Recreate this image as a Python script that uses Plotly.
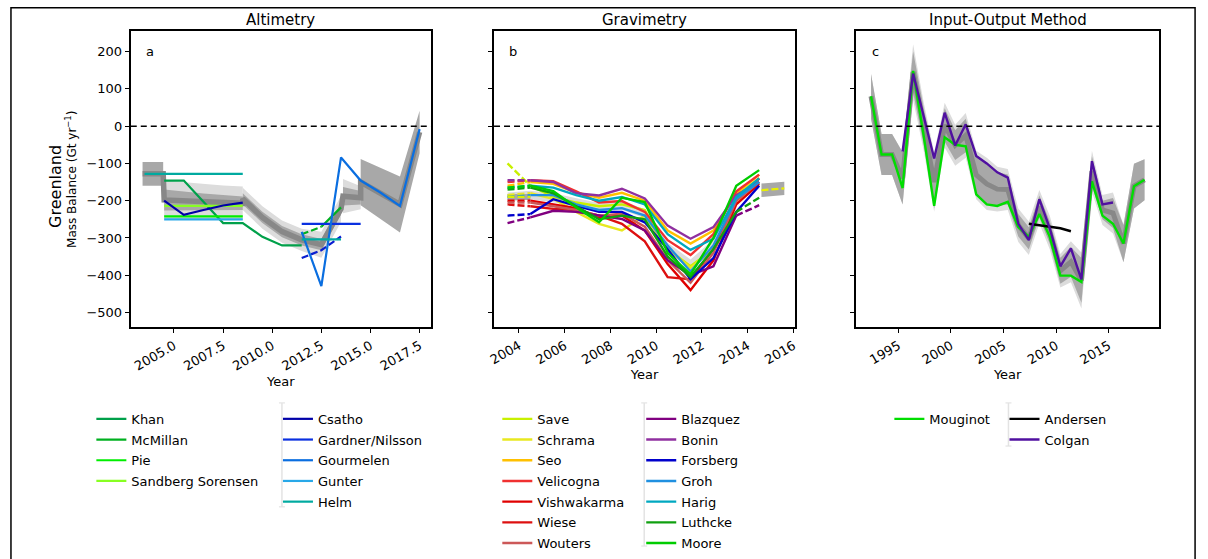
import plotly.graph_objects as go

W, H = 1208, 559
FONT = "DejaVu Sans"

# ---------------- Panel a : Altimetry ----------------
khan_x = [2004.5, 2005.5, 2007.5, 2008.5, 2009.5, 2010.5, 2011.5]
khan_y = [-146, -146, -260, -260, -297, -320, -320]
mcmillan_x = [2011.5, 2012.5, 2013.5]
mcmillan_y = [-290, -270, -218]
pie_x = [2004.5, 2008.5]
pie_y = [-242, -242]
sandberg_x = [2004.5, 2008.5]
sandberg_y = [-214, -214]
csatho_x = [2004.5, 2005.5, 2006.5, 2007.5, 2008.5]
csatho_y = [-200, -238, -225, -213, -205]
csatho2_x = [2011.5, 2012.5, 2013.5]
csatho2_y = [-354, -333, -296]
gardner_x = [2011.5, 2014.5]
gardner_y = [-262, -262]
gourmelen_x = [2011.5, 2012.5, 2013.5, 2014.5, 2015.5, 2016.5, 2017.5]
gourmelen_y = [-284, -429, -84, -146, -178, -214, -8]
gunter_x = [2004.5, 2008.5]
gunter_y = [-250, -250]
helm_x = [2003.5, 2008.5]
helm_y = [-128, -128]
helm2_x = [2011.5, 2013.5]
helm2_y = [-304, -304]

# altimetry ensemble envelopes (mean, dark half-width, light half-width)
alt_s1_x = [2003.4, 2004.45]
alt_s1_mean = [-128, -128]
alt_s1_dark = [32, 32]
alt_s2_x = [2004.5, 2005.5, 2006.5, 2007.5, 2008.5]
alt_s2_mean = [-198, -201, -203, -205, -207]
alt_s2_dark = [28, 25, 22, 20, 18]
alt_s2_light = [52, 50, 48, 46, 45]
alt_s3_x = [2008.5, 2009.5, 2010.5, 2011.5, 2012.5, 2013.5]
alt_s3_mean = [-195, -245, -283, -305, -318, -222]
alt_s3_dark = [15, 15, 15, 15, 15, 15]
alt_s3_light = [30, 30, 30, 30, 35, 35]
alt_s4_x = [2013.6, 2014.5]
alt_s4_mean = [-188, -192]
alt_s4_dark = [25, 18]
alt_s4_light = [46, 31]
alt_s5_x = [2014.5, 2015.5, 2016.5, 2017.5]
alt_s5_mean = [-150, -180, -210, -16]
alt_s5_dark = [62, 68, 75, 57]

# ---------------- Panel b : Gravimetry ----------------
grav_x = [2003.5, 2004.5, 2005.5, 2006.5, 2007.5, 2008.5, 2009.5, 2010.5, 2011.5, 2012.5, 2013.5, 2014.5]
save_y = [-100, -160, -190, -205, -215, -210, -225, -330, -376, -330, -200, -150]
schrama_y = [-185, -180, -195, -230, -262, -280, -240, -330, -380, -330, -185, -140]
seo_y = [-160, -150, -155, -178, -192, -179, -200, -280, -315, -280, -180, -130]
velicogna_y = [-150, -145, -148, -175, -205, -201, -230, -306, -346, -290, -175, -130]
vishwakarma_y = [-200, -200, -210, -220, -245, -240, -280, -370, -440, -360, -210, -155]
wiese_y = [-210, -215, -222, -225, -240, -262, -309, -405, -411, -330, -200, -140]
wouters_y = [-205, -205, -215, -225, -240, -235, -270, -360, -420, -340, -200, -150]
blazquez_y = [-260, -245, -227, -230, -240, -249, -280, -360, -400, -376, -240, -212]
bonin_y = [-145, -145, -150, -180, -186, -168, -194, -267, -302, -271, -185, -150]
forsberg_y = [-240, -236, -196, -214, -230, -230, -258, -330, -411, -354, -230, -160]
groh_y = [-190, -185, -185, -210, -225, -220, -240, -320, -390, -320, -195, -150]
harig_y = [-165, -160, -165, -185, -200, -190, -210, -290, -332, -302, -190, -140]
luthcke_y = [-170, -165, -180, -215, -250, -240, -250, -350, -405, -330, -230, -192]
moore_y = [-165, -160, -174, -218, -258, -192, -204, -340, -398, -300, -160, -118]

grav_mean = [-190, -185, -192, -205, -218, -212, -235, -325, -372, -318, -195, -155]
grav_half = [12, 12, 12, 12, 12, 12, 12, 12, 14, 14, 12, 12]
gbox1_x = [2003.5, 2004.5]
gbox1_mean = [-190, -190]
gbox1_half = [8, 8]
gbox2_x = [2014.6, 2015.6]
gbox2_mean = [-172, -167]
gbox2_half = [18, 18]

# ---------------- Panel c : Input-Output ----------------
io_x = [1992.4, 1993.4, 1994.4, 1995.4, 1996.4, 1997.4, 1998.4, 1999.4, 2000.4,
        2001.4, 2002.4, 2003.4, 2004.4, 2005.4, 2006.4, 2007.4, 2008.4, 2009.4,
        2010.4, 2011.4, 2012.4, 2013.4, 2014.4, 2015.4, 2016.4, 2017.4, 2018.4]
mouginot_y = [80, -76, -76, -166, 148, -25, -214, -30, -50, -54, -183, -210, -214,
              -203, -271, -297, -236, -297, -401, -401, -418, -148, -240, -262, -315, -161, -144]
colgan_x = [1995.4, 1996.4, 1997.4, 1998.4, 1999.4, 2000.4, 2001.4, 2002.4, 2003.4,
            2004.4, 2005.4, 2006.4, 2007.4, 2008.4, 2009.4, 2010.4, 2011.4, 2012.4,
            2013.4, 2014.4, 2015.4]
colgan_y = [-68, 141, 27, -87, 36, -52, 5, -80, -100, -124, -138, -262, -306, -196,
            -275, -376, -328, -411, -94, -210, -205]
andersen_x = [2007.4, 2008.4, 2009.4, 2010.4, 2011.4]
andersen_y = [-262, -266, -270, -274, -282]

io_mean = [80, -76, -76, -140, 145, 0, -150, 3, -51, -25, -131, -155, -169, -170,
           -266, -301, -216, -286, -388, -364, -414, -121, -225, -233, -315, -161, -144]
io_dark = [60, 55, 55, 70, 55, 50, 70, 45, 40, 45, 52, 55, 45, 40, 30, 30, 30, 30,
           35, 40, 60, 40, 25, 40, 50, 60, 55]
io_light = [60, 55, 55, 70, 75, 65, 80, 60, 55, 60, 65, 70, 60, 55, 45, 45, 45, 45,
            45, 55, 75, 55, 40, 55, 50, 60, 55]

# ---------------- build figure ----------------
fig = go.Figure()
AX = {'a': ('x', 'y'), 'b': ('x2', 'y2'), 'c': ('x3', 'y3')}
DASH = "7px,3px"
LIGHT = "#dcdcdc"
DARK = "#a8a8a8"
MEANC = "#888888"


def add_line(p, x, y, color, width=2.2, dash='solid', name=None, legend='legend'):
    xa, ya = AX[p]
    if name is not None:
        kw = dict(name=name, showlegend=True, legendgroup=name, legend=legend)
    else:
        kw = dict(name='segment', showlegend=False)
    fig.add_trace(go.Scatter(
        x=x, y=y, mode='lines', xaxis=xa, yaxis=ya,
        line=dict(color=color, width=width, dash=dash),
        hoverinfo='skip', **kw))


def add_band(p, x, mean, half, color):
    xa, ya = AX[p]
    upper = [m + h for m, h in zip(mean, half)]
    lower = [m - h for m, h in zip(mean, half)]
    fig.add_trace(go.Scatter(
        x=list(x) + list(x)[::-1], y=upper + lower[::-1], mode='lines',
        fill='toself', fillcolor=color, line=dict(width=0, color=color),
        xaxis=xa, yaxis=ya, showlegend=False, hoverinfo='skip', name='band'))


# Panel a envelopes
add_band('a', alt_s2_x, alt_s2_mean, alt_s2_light, LIGHT)
add_band('a', alt_s3_x, alt_s3_mean, alt_s3_light, LIGHT)
add_band('a', alt_s4_x, alt_s4_mean, alt_s4_light, LIGHT)
add_band('a', alt_s1_x, alt_s1_mean, alt_s1_dark, DARK)
add_band('a', alt_s2_x, alt_s2_mean, alt_s2_dark, DARK)
add_band('a', alt_s3_x, alt_s3_mean, alt_s3_dark, DARK)
add_band('a', alt_s4_x, alt_s4_mean, alt_s4_dark, DARK)
add_band('a', alt_s5_x, alt_s5_mean, alt_s5_dark, DARK)
add_line('a', alt_s1_x + alt_s2_x + alt_s3_x + alt_s4_x + alt_s5_x,
         alt_s1_mean + alt_s2_mean + alt_s3_mean + alt_s4_mean + alt_s5_mean,
         MEANC, width=5.5)

# Panel a series
add_line('a', khan_x, khan_y, "#00a04a", name="Khan", legend='legend')
add_line('a', mcmillan_x[1:], mcmillan_y[1:], "#00b020", name="McMillan", legend='legend')
add_line('a', mcmillan_x[:2], mcmillan_y[:2], "#00b020", dash=DASH)
add_line('a', pie_x, pie_y, "#00ee00", name="Pie", legend='legend')
add_line('a', sandberg_x, sandberg_y, "#88ff22", name="Sandberg Sorensen", legend='legend')
add_line('a', csatho_x, csatho_y, "#0000a8", name="Csatho", legend='legend2')
add_line('a', csatho2_x, csatho2_y, "#0a1ed0", dash=DASH)
add_line('a', gardner_x, gardner_y, "#0a30e0", name="Gardner/Nilsson", legend='legend2')
add_line('a', gourmelen_x, gourmelen_y, "#0a6ee0", name="Gourmelen", legend='legend2')
add_line('a', gunter_x, gunter_y, "#28a8e8", name="Gunter", legend='legend2')
add_line('a', helm_x, helm_y, "#00aaa0", name="Helm", legend='legend2')
add_line('a', helm2_x, helm2_y, "#00aaa0")

# Panel b envelopes
add_band('b', grav_x, grav_mean, grav_half, LIGHT)
add_band('b', gbox1_x, gbox1_mean, gbox1_half, DARK)
add_band('b', gbox2_x, gbox2_mean, gbox2_half, DARK)

grav_series = [
    ("Save", save_y, "#c8f000", 'legend3', False),
    ("Schrama", schrama_y, "#e8e820", 'legend3', False),
    ("Seo", seo_y, "#ffc000", 'legend3', False),
    ("Velicogna", velicogna_y, "#f03030", 'legend3', False),
    ("Vishwakarma", vishwakarma_y, "#e00000", 'legend3', False),
    ("Wiese", wiese_y, "#dd1010", 'legend3', False),
    ("Wouters", wouters_y, "#cc5858", 'legend3', False),
    ("Blazquez", blazquez_y, "#800080", 'legend4', True),
    ("Bonin", bonin_y, "#9030a0", 'legend4', False),
    ("Forsberg", forsberg_y, "#0000cc", 'legend4', False),
    ("Groh", groh_y, "#2090e0", 'legend4', False),
    ("Harig", harig_y, "#00a8c0", 'legend4', False),
    ("Luthcke", luthcke_y, "#10a010", 'legend4', True),
    ("Moore", moore_y, "#00cc00", 'legend4', False),
]
for name, ys, col, leg, dash_end in grav_series:
    end = -1 if dash_end else len(grav_x)
    add_line('b', grav_x[1:end], ys[1:end], col, width=2.4, name=name, legend=leg)
    add_line('b', grav_x[:2], ys[:2], col, width=2.4, dash=DASH)
    if dash_end:
        add_line('b', grav_x[-2:], ys[-2:], col, width=2.4, dash=DASH)

add_line('b', gbox1_x, gbox1_mean, "#d8f000", dash=DASH)
add_line('b', gbox2_x, gbox2_mean, "#e8f000", dash=DASH)

# Panel c envelopes
add_band('c', io_x, io_mean, io_light, LIGHT)
add_band('c', io_x, io_mean, io_dark, DARK)
add_line('c', io_x, io_mean, MEANC, width=5)
add_line('c', io_x, mouginot_y, "#00dd00", width=2.4, name="Mouginot", legend='legend5')
add_line('c', andersen_x, andersen_y, "#000000", width=2.4, name="Andersen", legend='legend6')
add_line('c', colgan_x, colgan_y, "#5010a0", width=2.4, name="Colgan", legend='legend6')

# ---------------- layout ----------------
def px_x(v):
    return v / W


def px_y(v):
    return 1 - v / H


ydom = [px_y(334), px_y(31.7)]
axis_common = dict(showline=True, linecolor='black', linewidth=2, mirror=True,
                   ticks='outside', ticklen=4, tickwidth=1.2, tickcolor='black',
                   showgrid=False, zeroline=False,
                   tickfont=dict(family=FONT, size=13, color='black'))
xcommon = dict(axis_common, tickangle=-30,
               title=dict(text='Year', font=dict(family=FONT, size=13, color='black'), standoff=4))

fig.update_layout(
    width=W, height=H, margin=dict(l=0, r=0, t=0, b=0),
    paper_bgcolor='white', plot_bgcolor='white',
    font=dict(family=FONT, color='black'),
    xaxis=dict(xcommon, domain=[px_x(125.7), px_x(428)], range=[2002.8, 2018.07],
               tickmode='linear', tick0=2005, dtick=2.5, tickformat='.1f', anchor='y'),
    yaxis=dict(axis_common, domain=ydom, range=[-540, 255], tickmode='linear',
               tick0=0, dtick=100, anchor='x'),
    xaxis2=dict(xcommon, domain=[px_x(491.7), px_x(795)], range=[2002.91, 2016.07],
                tickmode='linear', tick0=2004, dtick=2, anchor='y2'),
    yaxis2=dict(axis_common, domain=ydom, range=[-540, 255], tickmode='linear',
                tick0=0, dtick=100, showticklabels=False, anchor='x2'),
    xaxis3=dict(xcommon, domain=[px_x(856.7), px_x(1161.7)], range=[1991.0, 2019.78],
                tickmode='linear', tick0=1995, dtick=5, anchor='y3'),
    yaxis3=dict(axis_common, domain=ydom, range=[-540, 255], tickmode='linear',
                tick0=0, dtick=100, showticklabels=False, anchor='x3'),
    showlegend=True,
)

leg_font = dict(family=FONT, size=13, color='black')


def legend_at(xpx, ypx):
    return dict(x=px_x(xpx), y=px_y(ypx), xanchor='left', yanchor='top',
                xref='paper', yref='paper', bgcolor='rgba(0,0,0,0)',
                borderwidth=0, font=leg_font, traceorder='grouped', itemwidth=30,
                tracegroupgap=0.8)


fig.update_layout(
    legend=legend_at(86, 412),
    legend2=legend_at(274, 412),
    legend3=legend_at(495, 412),
    legend4=legend_at(640, 412),
    legend5=legend_at(890, 412),
    legend6=legend_at(1006, 412),
)

shapes = []
for xa, ya in AX.values():
    shapes.append(dict(type='line', xref=f'{xa} domain', yref=ya, x0=0, x1=1, y0=0, y1=0,
                       line=dict(color='black', width=1.5, dash='6px,4px'), layer='above'))
# legend column separators
for xs, y0, y1 in [(278, 411, 517), (643, 411, 557), (1010, 411, 455)]:
    shapes.append(dict(type='line', xref='paper', yref='paper', x0=px_x(xs), x1=px_x(xs),
                       y0=px_y(y0), y1=px_y(y1), line=dict(color='#e3e3e3', width=1.5)))
    for yy in (y0, y1):
        shapes.append(dict(type='line', xref='paper', yref='paper', x0=px_x(xs - 3),
                           x1=px_x(xs + 3), y0=px_y(yy), y1=px_y(yy),
                           line=dict(color='#e3e3e3', width=1.2)))
# figure border
shapes.append(dict(type='rect', xref='paper', yref='paper', x0=px_x(5), x1=px_x(1198),
                   y0=-0.05, y1=px_y(8), line=dict(color='black', width=1.5)))
fig.update_layout(shapes=shapes)

ann = []
for title, cx in [("Altimetry", 276.9), ("Gravimetry", 643.4), ("Input-Output Method", 1009.2)]:
    ann.append(dict(text=title, x=px_x(cx), y=px_y(20), xref='paper', yref='paper',
                    showarrow=False, font=dict(family=FONT, size=15, color='black'),
                    xanchor='center', yanchor='middle'))
for letter, xa, ya in [("a", 'x', 'y'), ("b", 'x2', 'y2'), ("c", 'x3', 'y3')]:
    ann.append(dict(text=letter, x=0.064, y=0.93, xref=f'{xa} domain', yref=f'{ya} domain',
                    showarrow=False, font=dict(family=FONT, size=13, color='black'),
                    xanchor='center', yanchor='middle'))
ann.append(dict(text="Greenland", x=px_x(50), y=px_y(190), xref='paper', yref='paper',
                textangle=-90, showarrow=False, font=dict(family=FONT, size=16, color='black'),
                xanchor='center', yanchor='middle'))
ann.append(dict(text="Mass Balance (Gt yr<sup>−1</sup>)", x=px_x(66), y=px_y(183),
                xref='paper', yref='paper', textangle=-90, showarrow=False,
                font=dict(family=FONT, size=12, color='black'),
                xanchor='center', yanchor='middle'))
fig.update_layout(annotations=ann)

fig.write_html("out.html", config={'displayModeBar': False},
               post_script="document.body.style.margin='0px';")
